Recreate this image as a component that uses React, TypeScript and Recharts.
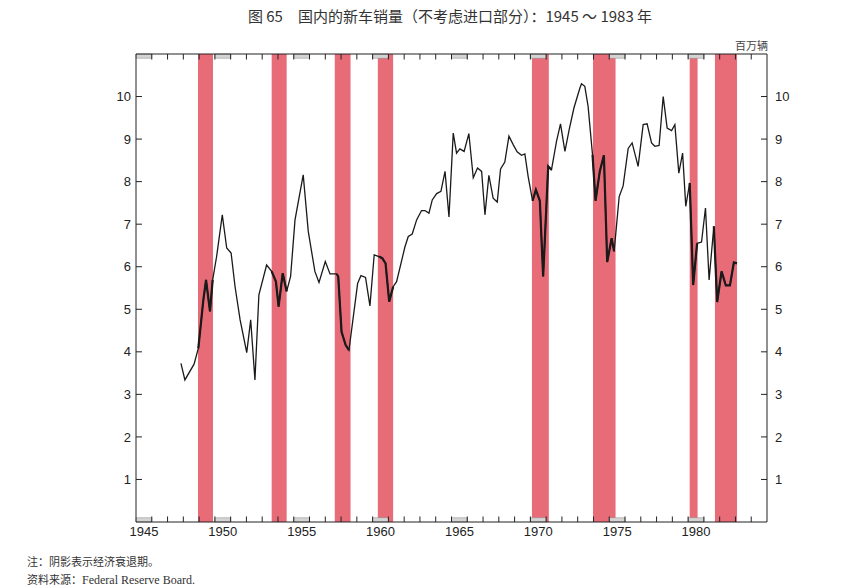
import React from "react";
import {
  ComposedChart,
  Line,
  XAxis,
  YAxis,
  ReferenceArea,
  ReferenceLine,
} from "recharts";

// quarterly new car sales, millions
const years = [
  1947.85, 1948.1, 1948.68, 1948.95, 1949.27, 1949.44, 1949.69, 1949.86, 1950.11, 1950.47,
  1950.75, 1951.03, 1951.28, 1951.6, 1952.02, 1952.27, 1952.54, 1952.79, 1953.28, 1953.6,
  1953.87, 1954.04, 1954.3, 1954.55, 1954.8, 1955.08, 1955.6, 1955.92, 1956.34, 1956.6,
  1957.0, 1957.3, 1957.72, 1957.82, 1958.03, 1958.29, 1958.5, 1959.05, 1959.26, 1959.55,
  1959.83, 1960.1, 1960.4, 1960.61, 1960.82, 1961.05, 1961.3, 1961.52, 1962.05, 1962.26,
  1962.51, 1962.79, 1963.1, 1963.31, 1963.57, 1963.78, 1964.06, 1964.33, 1964.59, 1964.84,
  1965.11, 1965.32, 1965.53, 1965.8, 1966.1, 1966.38, 1966.65, 1966.91, 1967.12, 1967.37,
  1967.64, 1967.9, 1968.11, 1968.38, 1968.64, 1968.91, 1969.16, 1969.44, 1969.65, 1969.86,
  1970.14, 1970.35, 1970.6, 1970.81, 1971.13, 1971.34, 1971.66, 1971.91, 1972.19, 1972.46,
  1972.76, 1973.14, 1973.24, 1973.45, 1973.66, 1973.94, 1974.13, 1974.4, 1974.66, 1974.87,
  1975.15, 1975.31, 1975.63, 1975.88, 1976.2, 1976.45, 1976.83, 1977.15, 1977.4, 1977.68,
  1977.89, 1978.16, 1978.42, 1978.67, 1978.95, 1979.16, 1979.41, 1979.65, 1979.85, 1980.1,
  1980.32, 1980.57, 1980.85, 1981.1, 1981.33, 1981.63, 1981.84, 1982.12, 1982.39, 1982.65,
  1982.9, 1983.1,
];

const sales = [
  3.73, 3.34, 3.71, 4.08, 5.22, 5.69, 4.95, 5.69, 6.24, 7.22,
  6.44, 6.32, 5.53, 4.75, 3.98, 4.75, 3.34, 5.34, 6.04, 5.89,
  5.65, 5.06, 5.85, 5.42, 5.77, 7.1, 8.16, 6.83, 5.89, 5.63,
  6.12, 5.83, 5.83, 5.77, 4.47, 4.16, 4.04, 5.61, 5.79, 5.75,
  5.08, 6.28, 6.24, 6.2, 6.08, 5.18, 5.53, 5.65, 6.47, 6.71,
  6.77, 7.1, 7.32, 7.32, 7.26, 7.57, 7.72, 7.77, 8.24, 7.17,
  9.14, 8.67, 8.77, 8.71, 9.13, 8.09, 8.32, 8.24, 7.22, 8.15,
  7.61, 7.52, 8.3, 8.46, 9.07, 8.87, 8.7, 8.62, 8.65, 8.12,
  7.55, 7.81, 7.55, 5.77, 8.36, 8.28, 8.95, 9.36, 8.71, 9.22,
  9.73, 10.2, 10.3, 10.24, 9.77, 8.63, 7.55, 8.24, 8.62, 6.11,
  6.67, 6.36, 7.65, 7.9, 8.78, 8.91, 8.36, 9.34, 9.36, 8.91,
  8.83, 8.85, 10.0, 9.26, 9.2, 9.34, 8.2, 8.67, 7.42, 7.97,
  5.57, 6.55, 6.58, 7.38, 5.69, 6.95, 5.17, 5.89, 5.56, 5.56,
  6.1, 6.08,
];

// recession periods [start, end]
const recessions = [
  [1948.93, 1949.88],
  [1953.6, 1954.55],
  [1957.6, 1958.6],
  [1960.33, 1961.3],
  [1970.1, 1971.17],
  [1973.97, 1975.4],
  [1980.1, 1980.6],
  [1981.7, 1983.1],
];

const yearTicks = Array.from({ length: 39 }, (_, i) => 1946 + i);
const labelYears = [1945, 1950, 1955, 1960, 1965, 1970, 1975, 1980];
const yTicks = [1, 2, 3, 4, 5, 6, 7, 8, 9, 10];

const X_MIN = 1945;
const X_MAX = 1985;
const Y_MAX = 11;

const inRecession = (yr: number) =>
  recessions.some(([a, b]) => yr >= a - 0.2 && yr <= b + 0.2);

const data = years.map((year, i) => ({
  year,
  sales: sales[i],
  bold: inRecession(year) ? sales[i] : null,
}));

const FONT = "'Liberation Sans', Arial, sans-serif";
const CJK = "'Noto Sans CJK SC', sans-serif";
const AXIS = "#222";

const YearTick = (props: any) => {
  const { x, y, payload } = props;
  if (!labelYears.includes(payload.value)) return null;
  return (
    <text x={x + 7.9} y={y + 12} textAnchor="middle" fontSize={13} fill="#222" fontFamily={FONT}>
      {payload.value}
    </text>
  );
};

export default function App() {
  return (
    <div style={{ position: "absolute", left: 0, top: 0, width: 848, height: 588, background: "#fff" }}>
      <div
        style={{
          position: "absolute",
          top: 5,
          left: 0,
          width: 900,
          textAlign: "center",
          fontFamily: CJK,
          fontSize: 15,
          color: "#333",
          whiteSpace: "pre",
        }}
      >
        图 65　国内的新车销量（不考虑进口部分）：1945 ～ 1983 年
      </div>
      <div style={{ position: "absolute", top: 37, left: 735, fontFamily: CJK, fontSize: 11, color: "#444" }}>
        百万辆
      </div>
      <div style={{ position: "absolute", top: 552, left: 27, fontFamily: CJK, fontSize: 11, color: "#333", lineHeight: "18px" }}>
        <div>注：阴影表示经济衰退期。</div>
        <div>
          资料来源：<span style={{ fontFamily: "'Liberation Serif', serif", fontSize: 12 }}>Federal Reserve Board.</span>
        </div>
      </div>
      <ComposedChart
        width={848}
        height={588}
        data={data}
        margin={{ top: 54, right: 41, bottom: 36, left: 96 }}
      >
        <XAxis
          type="number"
          dataKey="year"
          domain={[X_MIN, X_MAX]}
          ticks={labelYears}
          tick={<YearTick />}
          tickLine={false}
          tickSize={0}
          height={30}
          stroke={AXIS}
          interval={0}
          allowDataOverflow
        />
        <YAxis
          yAxisId="left"
          domain={[0, Y_MAX]}
          ticks={yTicks}
          tickLine={false}
          tickSize={0}
          tickMargin={5}
          width={40}
          stroke={AXIS}
          interval={0}
          tick={{ fontSize: 13, fill: "#222", fontFamily: FONT }}
        />
        <YAxis
          yAxisId="right"
          orientation="right"
          domain={[0, Y_MAX]}
          ticks={yTicks}
          tickLine={false}
          tickSize={0}
          tickMargin={8}
          width={40}
          stroke={AXIS}
          interval={0}
          tick={{ fontSize: 13, fill: "#222", fontFamily: FONT }}
        />
        {recessions.map(([a, b], i) => (
          <ReferenceArea
            key={`r${i}`}
            yAxisId="left"
            x1={a}
            x2={b}
            y1={0}
            y2={Y_MAX}
            fill="#e86b78"
            fillOpacity={1}
            stroke="none"
          />
        ))}
        {labelYears.map((yr) => (
          <ReferenceArea
            key={`b${yr}`}
            yAxisId="left"
            x1={yr}
            x2={yr + 1}
            y1={0}
            y2={0.1}
            fill="#d4d4d4"
            fillOpacity={1}
            stroke="#888"
            strokeWidth={0.5}
          />
        ))}
        {labelYears.map((yr) => (
          <ReferenceArea
            key={`t${yr}`}
            yAxisId="left"
            x1={yr}
            x2={yr + 1}
            y1={Y_MAX - 0.1}
            y2={Y_MAX}
            fill="#d4d4d4"
            fillOpacity={1}
            stroke="#888"
            strokeWidth={0.5}
          />
        ))}
        {/* top frame line */}
        <ReferenceLine
          yAxisId="left"
          segment={[{ x: X_MIN, y: Y_MAX }, { x: X_MAX, y: Y_MAX }]}
          stroke={AXIS}
          strokeWidth={1}
        />
        {/* inward year ticks, bottom and top */}
        {yearTicks.map((yr) => (
          <ReferenceLine
            key={`xb${yr}`}
            yAxisId="left"
            segment={[{ x: yr, y: 0 }, { x: yr, y: 0.13 }]}
            stroke={AXIS}
            strokeWidth={1}
          />
        ))}
        {yearTicks.map((yr) => (
          <ReferenceLine
            key={`xt${yr}`}
            yAxisId="left"
            segment={[{ x: yr, y: Y_MAX }, { x: yr, y: Y_MAX - 0.13 }]}
            stroke={AXIS}
            strokeWidth={1}
          />
        ))}
        {/* inward value ticks, left and right */}
        {yTicks.map((v) => (
          <ReferenceLine
            key={`yl${v}`}
            yAxisId="left"
            segment={[{ x: X_MIN, y: v }, { x: X_MIN + 0.38, y: v }]}
            stroke={AXIS}
            strokeWidth={1}
          />
        ))}
        {yTicks.map((v) => (
          <ReferenceLine
            key={`yr${v}`}
            yAxisId="left"
            segment={[{ x: X_MAX - 0.38, y: v }, { x: X_MAX, y: v }]}
            stroke={AXIS}
            strokeWidth={1}
          />
        ))}
        <Line
          yAxisId="right"
          type="linear"
          dataKey="sales"
          stroke="none"
          dot={false}
          legendType="none"
          isAnimationActive={false}
        />
        <Line
          yAxisId="left"
          type="linear"
          dataKey="sales"
          stroke="#1a1a1a"
          strokeWidth={1.3}
          dot={false}
          isAnimationActive={false}
        />
        <Line
          yAxisId="left"
          type="linear"
          dataKey="bold"
          stroke="#1a1a1a"
          strokeWidth={2.2}
          dot={false}
          connectNulls={false}
          isAnimationActive={false}
        />
      </ComposedChart>
    </div>
  );
}
